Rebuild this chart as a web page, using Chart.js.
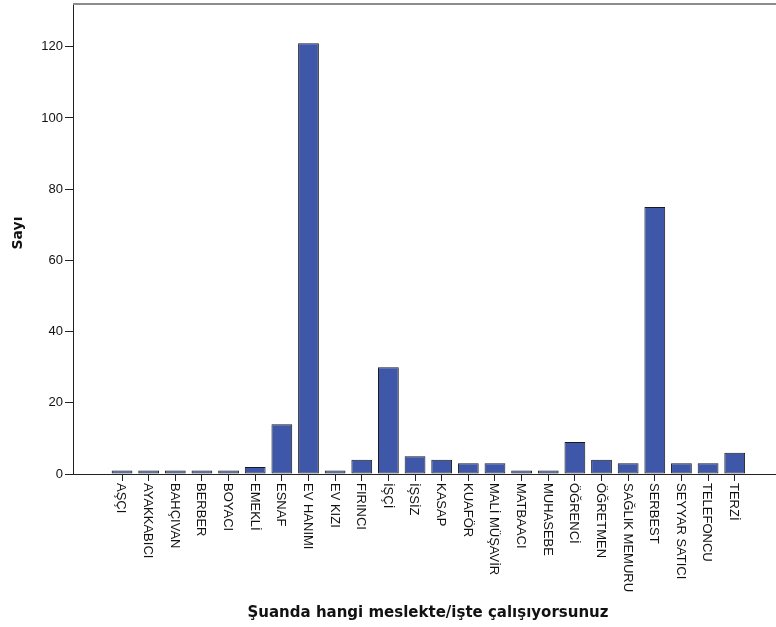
<!DOCTYPE html>
<html>
<head>
<meta charset="utf-8">
<script src="https://cdn.jsdelivr.net/npm/chart.js@4.4.0/dist/chart.umd.min.js"></script>
<style>
html,body{margin:0;padding:0;background:#fff;}
#wrap{width:776px;height:627px;position:relative;}
</style>
</head>
<body>
<div id="wrap"><canvas id="c" width="776" height="627"></canvas></div>
<script>
const categories = ["AŞÇI","AYAKKABICI","BAHÇIVAN","BERBER","BOYACI","EMEKLİ","ESNAF","EV HANIMI","EV KIZI","FIRINCI","İŞÇİ","İŞSİZ","KASAP","KUAFÖR","MALİ MÜŞAVİR","MATBAACI","MUHASEBE","ÖĞRENCİ","ÖĞRETMEN","SAĞLIK MEMURU","SERBEST","SEYYAR SATICI","TELEFONCU","TERZİ"];
const counts = [1,1,1,1,1,2,14,121,1,4,30,5,4,3,3,1,1,9,4,3,75,3,3,6];
const yTicks = [0,20,40,60,80,100,120];
const yTitle = "Sayı";
const xTitle = "Şuanda hangi meslekte/işte çalışıyorsunuz";

const points = categories.map((c,i)=>({x:i,y:counts[i]}));

const decor = {
  id:'decor',
  afterDraw(chart){
    const ctx = chart.ctx;
    const xs = chart.scales.x;
    const area = chart.chartArea;
    ctx.save();
    ctx.strokeStyle = '#8c8c8c';
    ctx.lineWidth = 2;
    ctx.beginPath();
    ctx.moveTo(area.left, area.top);
    ctx.lineTo(area.right, area.top);
    ctx.stroke();
    ctx.fillStyle = '#111';
    ctx.font = '13px "Liberation Sans", Arial, sans-serif';
    ctx.textAlign = 'left';
    ctx.textBaseline = 'middle';
    categories.forEach((c,i)=>{
      const px = xs.getPixelForValue(i);
      ctx.save();
      ctx.translate(px - 1, area.bottom + 9);
      ctx.rotate(Math.PI/2);
      ctx.fillText(c, 0, 0);
      ctx.restore();
    });
    ctx.font = 'bold 14px "DejaVu Sans", sans-serif';
    ctx.textAlign = 'center';
    ctx.textBaseline = 'middle';
    ctx.save();
    ctx.translate(18, 233);
    ctx.rotate(-Math.PI/2);
    ctx.fillText(yTitle, 0, 0);
    ctx.restore();
    ctx.font = 'bold 15px "DejaVu Sans", sans-serif';
    ctx.textBaseline = 'alphabetic';
    ctx.fillText(xTitle, 428, 617);
    ctx.restore();
  }
};

new Chart(document.getElementById('c'), {
  type:'bar',
  data:{
    datasets:[{
      data: points,
      backgroundColor:'#3e57a8',
      borderColor:'#1a1a1a',
      borderWidth:1,
      borderSkipped:false,
      barPercentage:0.78,
      categoryPercentage:1
    }]
  },
  options:{
    responsive:false,
    animation:false,
    devicePixelRatio:1,
    layout:{padding:{top:4,right:0,left:0,bottom:0}},
    plugins:{legend:{display:false},tooltip:{enabled:false}},
    scales:{
      x:{
        type:'linear',
        offset:false,
        min:-1.84,
        max:24.55,
        afterFit(s){ s.height = 153; s.paddingLeft = 0; s.paddingRight = 0; },
        afterBuildTicks(s){ s.ticks = categories.map((c,i)=>({value:i})); },
        ticks:{display:false},
        grid:{display:true,offset:false,drawOnChartArea:false,drawTicks:true,tickLength:7,color:'#222',lineWidth:1},
        border:{display:true,color:'#222',width:1}
      },
      y:{
        min:0,
        max:132,
        afterFit(s){ s.width = 73; s.paddingTop = 0; s.paddingBottom = 0; },
        afterBuildTicks(s){ s.ticks = yTicks.map(v=>({value:v})); },
        ticks:{color:'#111',font:{family:'"Liberation Sans", Arial, sans-serif',size:13},padding:2},
        grid:{display:true,drawOnChartArea:false,drawTicks:true,tickLength:8,color:'#222',lineWidth:1},
        border:{display:true,color:'#222',width:1}
      }
    }
  },
  plugins:[decor]
});
</script>
</body>
</html>
